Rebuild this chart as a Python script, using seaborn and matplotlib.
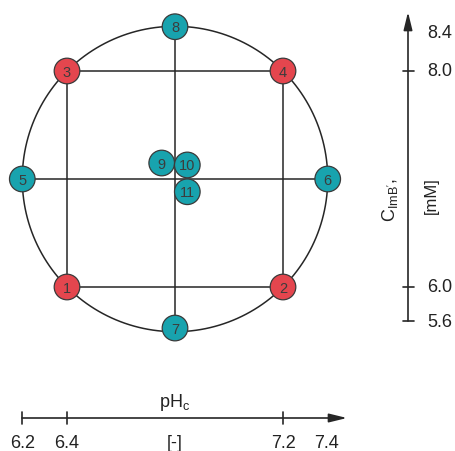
import numpy as np
import pandas as pd
import matplotlib
matplotlib.use("Agg")
import matplotlib.pyplot as plt
import seaborn as sns

# ---- data (coded design levels) ----
run_ids = ["1", "2", "3", "4", "5", "6", "7", "8", "9", "10", "11"]
x_coded = [-1.0, 1.0, -1.0, 1.0, -1.414, 1.414, 0.0, 0.0, -0.123, 0.114, 0.114]
y_coded = [-1.0, -1.0, 1.0, 1.0, 0.0, 0.0, -1.38, 1.41, 0.148, 0.13, -0.118]
run_type = ["factorial"] * 4 + ["axial"] * 4 + ["center"] * 3

ph_tick_labels = ["6.2", "6.4", "7.2", "7.4"]
ph_tick_pos = [-1.414, -1.0, 1.0, 1.407]
conc_tick_labels = ["5.6", "6.0", "8.0", "8.4"]
conc_tick_pos = [-1.315, -1.0, 1.0, 1.36]

alpha = 1.414

df = pd.DataFrame({"x": x_coded, "y": y_coded, "type": run_type, "id": run_ids})

sns.set_theme(style="white")
plt.rcParams["font.family"] = ["Liberation Sans", "DejaVu Sans"]
plt.rcParams["mathtext.fontset"] = "custom"
plt.rcParams["mathtext.rm"] = "Liberation Sans"
plt.rcParams["mathtext.it"] = "Liberation Sans"

fig = plt.figure(figsize=(4.56, 4.52), dpi=100)
ax = fig.add_axes([0, 0, 1, 1])
unit = 108.0
cx, cy = 175.0, 180.0
ax.set_xlim(-cx / unit, (456 - cx) / unit)
ax.set_ylim(-(452 - cy) / unit, cy / unit)
ax.set_axis_off()

lc = "#262626"
lw = 1.1
# circle
t = np.linspace(0, 2 * np.pi, 400)
ax.plot(alpha * np.cos(t), alpha * np.sin(t), color=lc, lw=lw, zorder=1)
# square
ax.plot([-1, 1, 1, -1, -1], [-1, -1, 1, 1, -1], color=lc, lw=lw, zorder=1)
# cross
ax.plot([-alpha, alpha], [0, 0], color=lc, lw=lw, zorder=1)
ax.plot([0, 0], [-alpha, alpha], color=lc, lw=lw, zorder=1)

palette = {"factorial": "#e4464e", "axial": "#18a3ae", "center": "#18a3ae"}
sns.scatterplot(data=df, x="x", y="y", hue="type", palette=palette, s=340,
                edgecolor="#3a3a3a", linewidth=0.9, legend=False, zorder=3, ax=ax)
for _, r in df.iterrows():
    ax.text(r["x"], r["y"] - 0.005, r["id"], ha="center", va="center",
            fontsize=10.5, color="#3c3c3c", zorder=4)

# ---- pH axis (bottom) ----
ya = (cy - 419) / unit
x0 = ph_tick_pos[0] - 0.003
x1 = (347 - cx) / unit
ax.annotate("", xy=(x1, ya), xytext=(x0, ya),
            arrowprops=dict(arrowstyle="-|>,head_length=0.9,head_width=0.22",
                            lw=1.2, color=lc, shrinkA=0, shrinkB=0))
tk = 5.5 / unit
for p, lab in zip(ph_tick_pos, ph_tick_labels):
    if lab != ph_tick_labels[-1]:
        ax.plot([p, p], [ya - tk, ya + tk], color=lc, lw=1.2)
    ax.text(p, ya - 25 / unit, lab, ha="center", va="center", fontsize=13, color="#222")
ax.text(0, ya + 16 / unit, r"pH$_\mathrm{c}$", ha="center", va="center",
        fontsize=13, color="#222")
ax.text(0, ya - 25 / unit, "[-]", ha="center", va="center", fontsize=13, color="#222")

# ---- concentration axis (right) ----
xa = (408 - cx) / unit
y0 = conc_tick_pos[0]
y1 = (cy - 13) / unit
ax.annotate("", xy=(xa, y1), xytext=(xa, y0),
            arrowprops=dict(arrowstyle="-|>,head_length=0.9,head_width=0.22",
                            lw=1.2, color=lc, shrinkA=0, shrinkB=0))
for p, lab in zip(conc_tick_pos, conc_tick_labels):
    if lab != conc_tick_labels[-1]:
        ax.plot([xa - tk, xa + tk], [p, p], color=lc, lw=1.2)
    ax.text(xa + 19 / unit, p, lab, ha="left", va="center", fontsize=13, color="#222")
ax.text((390 - cx) / unit, (cy - 200) / unit, r"C$_\mathrm{ImB'}$,", rotation=90,
        ha="center", va="center", fontsize=13, color="#222")
ax.text((431 - cx) / unit, (cy - 196) / unit, "[mM]", rotation=90,
        ha="center", va="center", fontsize=12, color="#222")

fig.savefig("out.png", dpi=100)
